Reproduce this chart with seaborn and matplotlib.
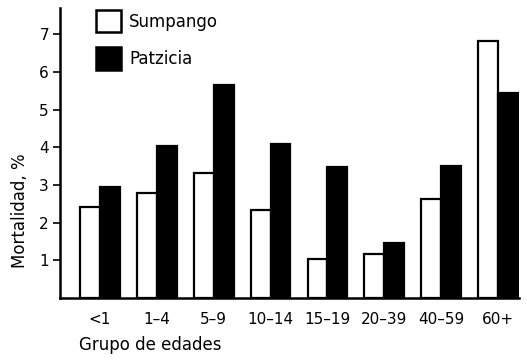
import pandas as pd
import matplotlib.pyplot as plt
import seaborn as sns
from matplotlib.patches import Patch

# Datos (mortalidad, %)
grupos = ["<1", "1–4", "5–9", "10–14", "15–19", "20–39", "40–59", "60+"]
sumpango = [2.41, 2.79, 3.32, 2.33, 1.03, 1.17, 2.63, 6.81]
patzicia = [2.94, 4.03, 5.65, 4.08, 3.47, 1.46, 3.50, 5.45]
localidades = ["Sumpango", "Patzicia"]

df = pd.DataFrame({
    "Grupo": grupos * 2,
    "Mortalidad": sumpango + patzicia,
    "Localidad": ["Sumpango"] * len(grupos) + ["Patzicia"] * len(grupos),
})

sns.set_style("white")
plt.rcParams["font.family"] = ["DejaVu Sans"]
plt.rcParams["text.color"] = "black"
plt.rcParams["axes.labelcolor"] = "black"
plt.rcParams["xtick.color"] = "black"
plt.rcParams["ytick.color"] = "black"

fig = plt.figure(figsize=(5.27, 3.6), dpi=100)
ax = fig.add_axes([0.114, 0.172, 0.871, 0.806])

colores = {"Sumpango": "white", "Patzicia": "black"}
sns.barplot(
    data=df, x="Grupo", y="Mortalidad", hue="Localidad",
    order=grupos, hue_order=localidades, palette=colores,
    edgecolor="black", linewidth=1.6, width=0.7, saturation=1,
    legend=False, ax=ax,
)

ax.set_xlim(-0.70, 7.37)
ax.set_ylim(0, 7.7)
ax.set_yticks([1, 2, 3, 4, 5, 6, 7])
ax.tick_params(axis="y", direction="out", length=5, width=1.2, labelsize=11, pad=3, left=True)
ax.tick_params(axis="x", length=0, labelsize=11, pad=10)

for s in ["top", "right"]:
    ax.spines[s].set_visible(False)
for s in ["left", "bottom"]:
    ax.spines[s].set_color("black")
    ax.spines[s].set_linewidth(1.8)

ax.set_ylabel("Mortalidad, %", fontsize=12)
ax.yaxis.set_label_coords(-0.068, 0.30)
ax.set_xlabel("Grupo de edades", fontsize=12)
ax.xaxis.set_label_coords(0.196, -0.13)

handles = [Patch(facecolor=colores[l], edgecolor="black", linewidth=1.8, label=l) for l in localidades]
ax.legend(
    handles=handles, loc="upper left", bbox_to_anchor=(0.045, 1.045),
    frameon=False, fontsize=12, handlelength=1.5, handleheight=1.7,
    handletextpad=0.5, labelspacing=0.9,
)

plt.savefig("out.png", dpi=100)
plt.close()
